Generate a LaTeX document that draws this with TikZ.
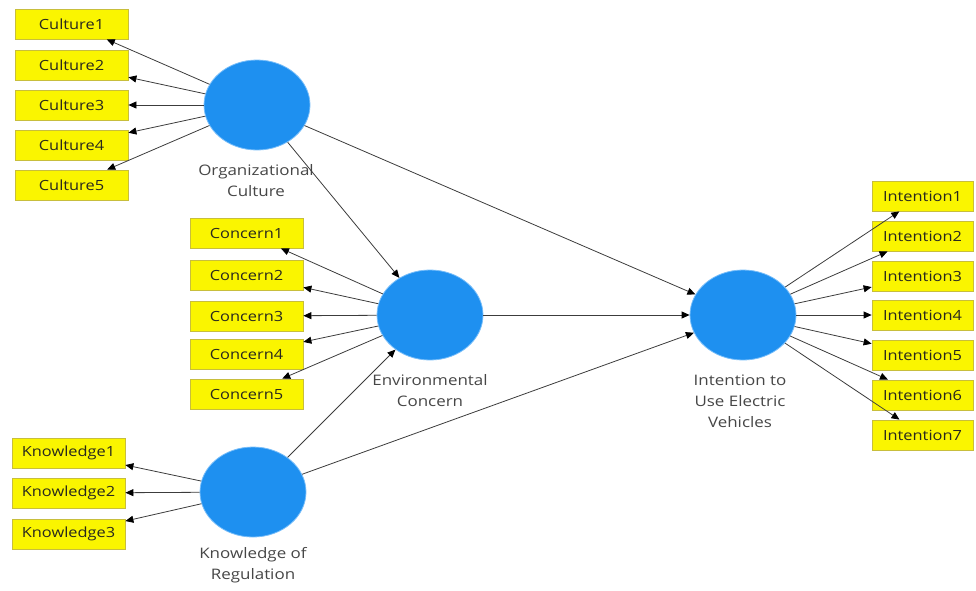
\documentclass[tikz,border=0pt]{standalone}
\usepackage{fontspec}
\setmainfont{Open Sans}
\newfontfamily\widefont[FakeStretch=1.17]{Open Sans}
\usetikzlibrary{arrows.meta,shapes.geometric}
\definecolor{boxfill}{RGB}{250,245,0}
\definecolor{boxline}{RGB}{200,190,60}
\definecolor{lvfill}{RGB}{30,144,240}
\definecolor{lvline}{RGB}{120,190,250}
\definecolor{txt}{RGB}{40,40,30}
\definecolor{lbl}{RGB}{70,70,70}
\definecolor{arr}{RGB}{60,60,60}
\tikzset{
  ind/.style={draw=boxline, fill=boxfill, line width=0.8pt, minimum width=113pt, minimum height=30pt, inner sep=0pt, text=txt, font=\widefont\fontsize{14}{16}\selectfont},
  lv/.style={ellipse, draw=lvline, fill=lvfill, line width=0.8pt, minimum width=106pt, minimum height=90pt, inner sep=0pt},
  lvlabel/.style={align=center, text=lbl, font=\widefont\fontsize{14.5}{21}\selectfont, inner sep=0pt},
  link/.style={draw=arr, line width=0.8pt, -{Triangle[length=8pt,width=7pt,color=black]}}
}
\begin{document}
\begin{tikzpicture}[x=1pt,y=-1pt]
\useasboundingbox (0,0) rectangle (976,590);
% latent variables
\node[lv] (oc) at (257,105) {};
\node[lv] (ec) at (430,315) {};
\node[lv] (kr) at (253,492) {};
\node[lv] (iu) at (743,315) {};
\node[lvlabel] (ocl) at (256,181) {Organizational\\Culture};
\node[lvlabel] (ecl) at (430,391) {Environmental\\Concern};
\node[lvlabel] (krl) at (253,565) {Knowledge of\\Regulation};
\node[lvlabel] (iul) at (740,401) {Intention to\\Use Electric\\Vehicles};
% indicators
\foreach \i/\y in {1/24,2/65,3/105,4/145,5/185}
  \node[ind] (c\i) at (71.5,\y) {Culture\i};
\foreach \i/\y in {1/233,2/275,3/316,4/354,5/394}
  \node[ind] (e\i) at (246.5,\y) {Concern\i};
\foreach \i/\y in {1/453,2/493,3/534}
  \node[ind] (k\i) at (68.5,\y) {Knowledge\i};
\foreach \i/\y in {1/196,2/236,3/276,4/315,5/355,6/395,7/435}
  \node[ind, minimum width=101pt] (n\i) at (922.5,\y) {Intention\i};
% outer arrows
\foreach \i in {1,...,5} \draw[link] (oc) -- (c\i);
\foreach \i in {1,...,5} \draw[link] (ec) -- (e\i);
\foreach \i in {1,...,3} \draw[link] (kr) -- (k\i);
\foreach \i in {1,...,7} \draw[link] (iu) -- (n\i);
% structural arrows
\draw[link] (oc) -- (ec);
\draw[link] (oc) -- (iu);
\draw[link] (ec) -- (iu);
\draw[link] (kr) -- (ec);
\draw[link] (kr) -- (iu);
\end{tikzpicture}
\end{document}
